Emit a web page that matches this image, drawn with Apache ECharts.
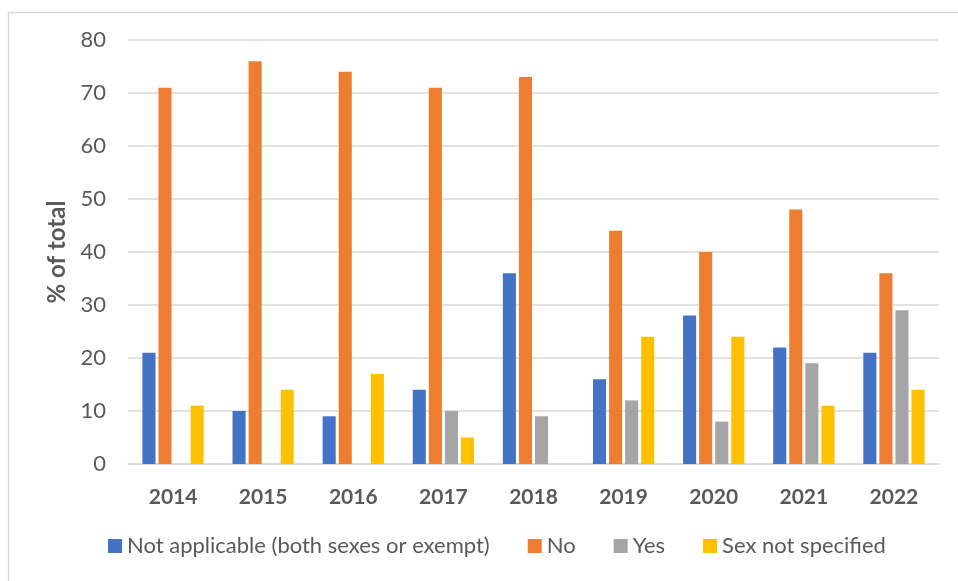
<!DOCTYPE html>
<html>
<head>
<meta charset="utf-8">
<script src="https://cdn.jsdelivr.net/npm/echarts@6/dist/echarts.min.js"></script>
<style>html,body{margin:0;padding:0;background:#fff}#c{width:958px;height:581px}</style>
</head>
<body>
<div id="c"></div>
<script>
var years = ['2014','2015','2016','2017','2018','2019','2020','2021','2022'];
var notApplicable = [21,10,9,14,36,16,28,22,21];
var no = [71,76,74,71,73,44,40,48,36];
var yes = [null,null,null,10,9,12,8,19,29];
var sexNotSpecified = [11,14,17,5,null,24,24,11,14];
var yTicks = [0,10,20,30,40,50,60,70,80];

var font = 'Lato';
var chart = echarts.init(document.getElementById('c'));
function bar(name, data, color){
  return {name:name,type:'bar',data:data,itemStyle:{color:color},barGap:'23%',barCategoryGap:'32%'};
}
chart.setOption({
  animation:false,
  textStyle:{fontFamily:font},
  graphic:[{type:'rect',shape:{x:8.5,y:12.5,width:1000,height:1000},style:{fill:'none',stroke:'#D9D9D9',lineWidth:1.5},silent:true}],
  grid:{left:128,right:19,top:40,bottom:117},
  legend:{
    bottom:19,left:103,itemWidth:14,itemHeight:14,itemGap:38,icon:'rect',
    textStyle:{fontSize:22,color:'#595959',fontFamily:font},
    data:['Not applicable (both sexes or exempt)','No','Yes','Sex not specified']
  },
  xAxis:{type:'category',data:years,
    axisLine:{lineStyle:{color:'#D9D9D9',width:1.5}},axisTick:{show:false},
    axisLabel:{fontSize:21,fontWeight:'bold',color:'#595959',margin:23,fontFamily:font}},
  yAxis:{type:'value',min:yTicks[0],max:yTicks[yTicks.length-1],interval:10,
    name:'% of total',nameLocation:'middle',nameRotate:90,nameGap:55,
    nameTextStyle:{fontSize:24,fontWeight:'bold',color:'#595959',fontFamily:font},
    axisLine:{show:false},axisTick:{show:false},
    splitLine:{lineStyle:{color:'#D9D9D9',width:1.5}},
    axisLabel:{fontSize:22,color:'#595959',margin:22,fontFamily:font}},
  series:[
    bar('Not applicable (both sexes or exempt)',notApplicable,'#4472C4'),
    bar('No',no,'#ED7D31'),
    bar('Yes',yes,'#A5A5A5'),
    bar('Sex not specified',sexNotSpecified,'#FFC000')
  ]
});
</script>
</body>
</html>
